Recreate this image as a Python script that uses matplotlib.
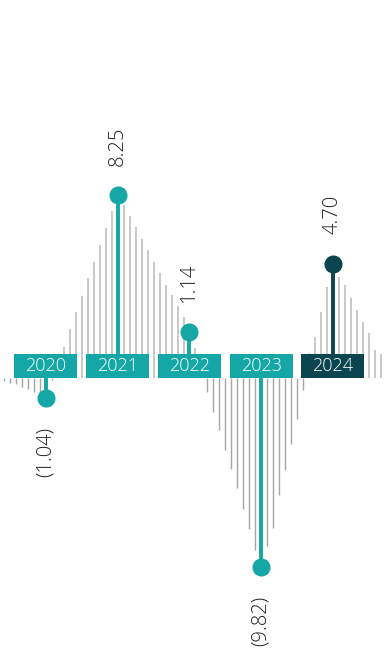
import matplotlib
matplotlib.use("Agg")
import matplotlib.pyplot as plt
from matplotlib.patches import Rectangle

# Annual results (stated values) and their years
years = ["2020", "2021", "2022", "2023", "2024"]
annual = [-1.04, 8.25, 1.14, -9.82, 4.70]

# Monthly trend between the annual points
months_before_2020 = [-0.14, -0.24, -0.33, -0.45, -0.59, -0.71, -0.85]
months_2020_2021 = [-0.10, 0.00, 0.36, 1.30, 2.18, 3.01, 3.95, 4.78, 5.66, 6.55, 7.43]
months_2021_2022 = [7.74, 7.17, 6.60, 5.97, 5.40, 4.78, 4.21, 3.58, 3.06, 2.49, 1.92]
months_2022_2023 = [0.31, 0.00, -0.73, -1.77, -2.70, -3.74, -4.73, -5.71, -6.80, -7.84, -8.94]
months_2023_2024 = [-8.73, -7.79, -6.08, -4.78, -3.43, -2.13, -0.62, 0.05, 0.88, 2.18, 3.48]
months_after_2024 = [4.00, 3.58, 2.91, 2.29, 1.66, 1.09, 0.20, 0.00]

TEAL = "#14a7a5"
DARK = "#0b4650"
year_colors = [TEAL, TEAL, TEAL, TEAL, DARK]
GREY_POS = "#c4c4c4"
GREY_NEG = "#a6a6a6"
FONT = ["Open Sans", "DejaVu Sans"]

# Height of the year-label band, in value units; positive values sit above it
BAND = 1.247


def lift(v):
    return v + BAND if v >= 0 else v


fig = plt.figure(figsize=(3.86, 6.48), dpi=100)
ax = fig.add_axes([0, 0, 1, 1])
ax.set_xlim(-0.641, 4.739)
ax.set_ylim(-14.03, 19.64)
ax.axis("off")

# Monthly grey lines
segments = [
    (-7, months_before_2020),
    (1, months_2020_2021),
    (13, months_2021_2022),
    (25, months_2022_2023),
    (37, months_2023_2024),
    (49, months_after_2024),
]
for start, vals in segments:
    for i, v in enumerate(vals):
        x = (start + i) / 12.0
        if v >= 0:
            ax.vlines(x, 0, lift(v), color=GREY_POS, lw=1.3, zorder=1)
        else:
            ax.vlines(x, 0, lift(v), color=GREY_NEG, lw=1.0, zorder=1)

# Annual lollipops with labels
for i, (yr, v, c) in enumerate(zip(years, annual, year_colors)):
    y = lift(v)
    ax.vlines(i, 0, y, color=c, lw=2.8, zorder=2)
    ax.plot(i, y, "o", ms=12, color=c, mec=c, zorder=3)
    label = f"{v:.2f}" if v >= 0 else f"({abs(v):.2f})"
    ax.annotate(label, (i, y), xytext=(0, 21 if v >= 0 else -21),
                textcoords="offset points", rotation=90,
                ha="center", va="bottom" if v >= 0 else "top",
                fontsize=14.5, color="#222222", family=FONT,
                fontweight="light")
    # Year label band
    ax.add_patch(Rectangle((i - 0.439, 0), 0.878, BAND, facecolor=c,
                           edgecolor="none", zorder=4))
    ax.text(i, BAND / 2, yr, ha="center", va="center", color="white",
            fontsize=13, family=FONT, fontweight="light", zorder=5)

fig.savefig("out.png", dpi=100)
